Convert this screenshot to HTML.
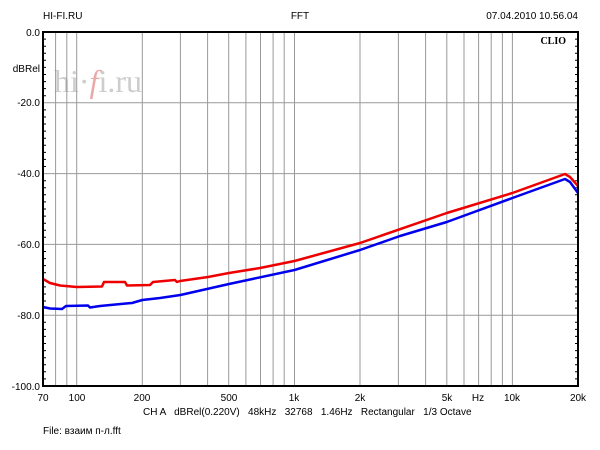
<!DOCTYPE html>
<html><head><meta charset="utf-8"><style>
body{margin:0;background:#fff;}
svg{display:block;font-family:"Liberation Sans",Arial,sans-serif;}
</style></head><body>
<svg width="600" height="450" viewBox="0 0 600 450" xmlns="http://www.w3.org/2000/svg">
<rect width="600" height="450" fill="#fff"/>
<text x="43" y="19" font-size="10">HI-FI.RU</text>
<text x="300" y="19" font-size="10" text-anchor="middle">FFT</text>
<text x="578" y="19" font-size="10" text-anchor="end">07.04.2010 10.56.04</text>
<text x="566" y="44" font-size="10" font-weight="bold" font-family="Liberation Serif,serif" text-anchor="end">CLIO</text>
<text x="54" y="92" font-size="32" font-family="Liberation Serif,serif" fill="#c8c8c8" opacity="0.9">hi·<tspan fill="#e8a0a0" font-style="italic">f</tspan>i.ru</text>
<g stroke="#999" stroke-width="1">
<line x1="55.6" y1="32" x2="55.6" y2="386"/><line x1="66.8" y1="32" x2="66.8" y2="386"/><line x1="76.7" y1="32" x2="76.7" y2="386"/>
<line x1="142.3" y1="32" x2="142.3" y2="386"/><line x1="180.4" y1="32" x2="180.4" y2="386"/><line x1="207.6" y1="32" x2="207.6" y2="386"/><line x1="228.7" y1="32" x2="228.7" y2="386"/><line x1="245.9" y1="32" x2="245.9" y2="386"/><line x1="260.5" y1="32" x2="260.5" y2="386"/><line x1="273.1" y1="32" x2="273.1" y2="386"/><line x1="284.2" y1="32" x2="284.2" y2="386"/>
<line x1="294.5" y1="32" x2="294.5" y2="386"/><line x1="360" y1="32" x2="360" y2="386"/><line x1="398.4" y1="32" x2="398.4" y2="386"/><line x1="425.6" y1="32" x2="425.6" y2="386"/><line x1="446.8" y1="32" x2="446.8" y2="386"/><line x1="464" y1="32" x2="464" y2="386"/><line x1="478.6" y1="32" x2="478.6" y2="386"/><line x1="491.2" y1="32" x2="491.2" y2="386"/><line x1="502.4" y1="32" x2="502.4" y2="386"/><line x1="512.4" y1="32" x2="512.4" y2="386"/>
<line x1="43" y1="102.8" x2="578" y2="102.8"/><line x1="43" y1="173.6" x2="578" y2="173.6"/><line x1="43" y1="244.4" x2="578" y2="244.4"/><line x1="43" y1="315.2" x2="578" y2="315.2"/>
</g>
<g stroke="#000" stroke-width="1">
<path d="M43 39.1h3M43 46.2h3M43 53.2h3M43 60.3h3M43 67.4h3M43 74.5h3M43 81.6h3M43 88.6h3M43 95.7h3M43 109.9h3M43 117h3M43 124h3M43 131.1h3M43 138.2h3M43 145.3h3M43 152.4h3M43 159.4h3M43 166.5h3M43 180.7h3M43 187.8h3M43 194.8h3M43 201.9h3M43 209h3M43 216.1h3M43 223.2h3M43 230.2h3M43 237.3h3M43 251.5h3M43 258.6h3M43 265.6h3M43 272.7h3M43 279.8h3M43 286.9h3M43 294h3M43 301h3M43 308.1h3M43 322.3h3M43 329.4h3M43 336.4h3M43 343.5h3M43 350.6h3M43 357.7h3M43 364.8h3M43 371.8h3M43 378.9h3"/>
<path transform="translate(532,0)" d="M43 39.1h3M43 46.2h3M43 53.2h3M43 60.3h3M43 67.4h3M43 74.5h3M43 81.6h3M43 88.6h3M43 95.7h3M43 109.9h3M43 117h3M43 124h3M43 131.1h3M43 138.2h3M43 145.3h3M43 152.4h3M43 159.4h3M43 166.5h3M43 180.7h3M43 187.8h3M43 194.8h3M43 201.9h3M43 209h3M43 216.1h3M43 223.2h3M43 230.2h3M43 237.3h3M43 251.5h3M43 258.6h3M43 265.6h3M43 272.7h3M43 279.8h3M43 286.9h3M43 294h3M43 301h3M43 308.1h3M43 322.3h3M43 329.4h3M43 336.4h3M43 343.5h3M43 350.6h3M43 357.7h3M43 364.8h3M43 371.8h3M43 378.9h3"/>
</g>
<polyline fill="none" stroke="#ee0000" stroke-width="2.5" stroke-linejoin="round" points="43,279 50,283 60,285.5 76.7,287 102,286.5 104,282 125,282 127,285.5 150,285 153,282 175,280 177,282 180,281 208,277 229,273 260,268 294.5,261 360,243 446.8,213 512.4,193 565,174 570,177 578,186"/>
<polyline fill="none" stroke="#0000ee" stroke-width="2.5" stroke-linejoin="round" points="43,307 50,308.5 62,309 66,306 88,305.5 90,307.5 100,306 126,303.5 132,303 142.3,300 160,298 180.4,295 229,284 294.5,270 360,250 400,236 446.8,222 512.4,198 565,179 570,182 578,193"/>
<rect x="43" y="32" width="535" height="354" fill="none" stroke="#000" stroke-width="2"/>
<g font-size="10" text-anchor="end">
<text x="40" y="36">0.0</text><text x="40" y="72">dBRel</text><text x="40" y="106">-20.0</text><text x="40" y="177">-40.0</text><text x="40" y="248">-60.0</text><text x="40" y="319">-80.0</text><text x="40" y="390">-100.0</text>
</g>
<g font-size="10" text-anchor="middle">
<text x="43" y="401">70</text><text x="77" y="401">100</text><text x="142" y="401">200</text><text x="229" y="401">500</text><text x="294" y="401">1k</text><text x="360" y="401">2k</text><text x="447" y="401">5k</text><text x="478" y="401">Hz</text><text x="512" y="401">10k</text><text x="578" y="401">20k</text>
</g>
<text x="143" y="415" font-size="10" xml:space="preserve">CH A   dBRel(0.220V)   48kHz   32768   1.46Hz   Rectangular   1/3 Octave</text>
<text x="43" y="434" font-size="10">File: взаим п-л.fft</text>
</svg>
</body></html>
